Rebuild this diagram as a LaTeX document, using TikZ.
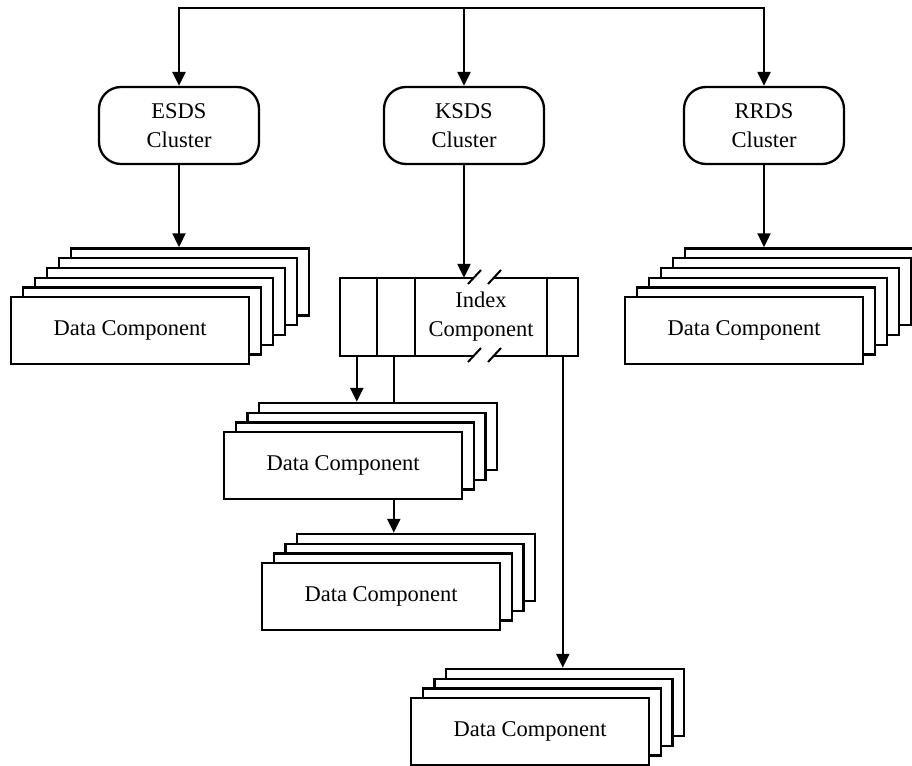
\documentclass[tikz,border=0pt]{standalone}
\usepackage{fontspec}
\setmainfont{Liberation Serif}
\usetikzlibrary{arrows.meta}
\tikzset{
  line/.style={line width=2.3pt},
  arr/.style={line width=2.3pt,-{Triangle[length=14pt,width=13pt]}},
  layer/.style={draw,fill=white,line width=2.3pt,minimum width=238pt,minimum height=67pt,inner sep=0pt,anchor=north west},
  cluster/.style={draw,line width=2.3pt,rounded corners=22pt,minimum width=160pt,minimum height=77pt,align=center},
  slash/.style={line width=2pt},
}
% #1 name, #2 front x, #3 front y, #4 back layers (descending), #5 dx
\newcommand\dstack[5]{%
  \foreach \i in {#4} {
    \node[layer] (#1-\i) at ({#2+\i*#5},{#3-\i*9.75}) {};
  }
  \node[layer] (#1) at (#2,#3) {Data Component};
}
\begin{document}
\begin{tikzpicture}[x=1pt,y=-1pt,font=\fontsize{22.5}{29}\selectfont,line join=miter]
\useasboundingbox (0,0) rectangle (912,765);
\clip (0,0) rectangle (912,765);

% clusters
\node[cluster] (esds) at (179,125.5) {ESDS\\Cluster};
\node[cluster] (ksds) at (464,125.5) {KSDS\\Cluster};
\node[cluster] (rrds) at (764,125.5) {RRDS\\Cluster};

\coordinate (top) at (464,8);
\draw[arr] (top) -| (esds.north);
\draw[arr] (top) -- (ksds.north);
\draw[arr] (top) -| (rrds.north);

% stacks
\dstack{es}{10}{296}{5,4,3,2,1}{12}
\dstack{rr}{624}{296}{5,4,3,2,1}{12}
\dstack{ms}{223}{431}{3,2,1}{11.7}
\dstack{ls}{261}{562}{3,2,1}{11.7}
\dstack{br}{410}{697}{3,2,1}{11.7}

\draw[arr] (esds.south) -- (esds.south |- es-5.north);
\draw[arr] (rrds.south) -- (rrds.south |- rr-5.north);

% index component
\node[minimum width=238pt,minimum height=78pt,inner sep=0pt] (idx) at (459,317) {};
\draw[line] (473.5,278) -- (340,278) -- (340,356) -- (473.5,356);
\draw[line] (493,278) -- (578,278) -- (578,356) -- (493,356);
\draw[line] (377,278) -- (377,356);
\draw[line] (415,278) -- (415,356);
\draw[line] (547,278) -- (547,356);
\draw[slash] (468,284) -- (481,270);
\draw[slash] (488,284) -- (501,270);
\draw[slash] (468,362) -- (481,348);
\draw[slash] (488,362) -- (501,348);
\node[align=center,inner sep=0pt] (idxtext) at (481,317) {Index\\Component};

\draw[arr] (ksds.south) -- (ksds.south |- idx.north);

\coordinate (a1) at ([xshift=17pt]idx.south west);
\coordinate (a2) at ([xshift=54pt]idx.south west);
\coordinate (a3) at ([xshift=223pt]idx.south west);
\draw[arr] (a1) -- (a1 |- ms-3.north);
\draw[line] (a2) -- (a2 |- ms-3.north);
\draw[arr] (ms.south -| a2) -- (a2 |- ls-3.north);
\draw[arr] (a3) -- (a3 |- br-3.north);
\end{tikzpicture}
\end{document}
